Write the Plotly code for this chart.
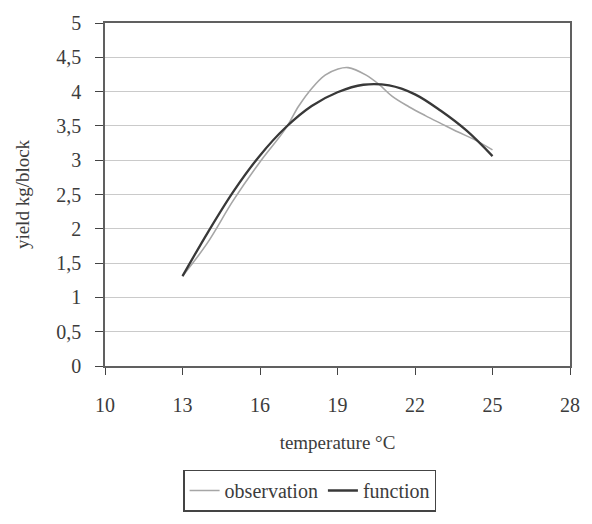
import plotly.graph_objects as go

temp_obs = [13, 13.94, 14.96, 15.97, 16.99, 17.5, 18.01, 18.52, 19.02, 19.41, 20.11, 20.62, 21.12, 21.76, 22.4, 23.03, 23.67, 24.3, 25]
yield_obs = [1.31, 1.78, 2.41, 2.96, 3.46, 3.79, 4.05, 4.24, 4.33, 4.35, 4.24, 4.1, 3.93, 3.78, 3.65, 3.53, 3.41, 3.3, 3.15]

temp_fun = [13, 14, 15, 16, 17, 18, 19, 20, 21, 22, 23, 24, 25]
yield_fun = [1.31, 1.96, 2.56, 3.07, 3.48, 3.79, 3.99, 4.1, 4.09, 3.96, 3.72, 3.43, 3.06]

x_ticks = [10, 13, 16, 19, 22, 25, 28]
y_ticks = [0, 0.5, 1, 1.5, 2, 2.5, 3, 3.5, 4, 4.5, 5]

font = "Liberation Serif, Times New Roman, serif"
txt = "#3c3c3c"

fig = go.Figure()
fig.add_trace(go.Scatter(x=temp_obs, y=yield_obs, mode="lines", name="observation",
                         line=dict(color="#a6a6a6", width=1.6, shape="spline", smoothing=1.0)))
fig.add_trace(go.Scatter(x=temp_fun, y=yield_fun, mode="lines", name="function",
                         line=dict(color="#383838", width=2.3, shape="spline", smoothing=1.0)))

fig.update_layout(
    width=592, height=524,
    margin=dict(l=105, r=15, t=17, b=157),
    paper_bgcolor="white", plot_bgcolor="white",
    separators=", ",
    font=dict(family=font, color=txt, size=19),
    showlegend=True,
    legend=dict(orientation="h", x=0.44, y=-0.363, xanchor="center", yanchor="middle",
                bordercolor="#444", borderwidth=1.5, font=dict(size=20, family=font, color=txt),
                tracegroupgap=0),
    xaxis=dict(range=[10, 28], tickvals=x_ticks, showgrid=False, zeroline=False,
               showline=True, linecolor="#606060", linewidth=1.5, mirror=True,
               ticks="outside", ticklen=7, tickcolor="#444", ticklabelstandoff=13,
               title=dict(text="temperature °C", font=dict(size=19, family=font, color=txt), standoff=21),
               tickfont=dict(size=20, family=font, color=txt)),
    yaxis=dict(range=[0, 5], tickvals=y_ticks, showgrid=True, gridcolor="#cacaca", gridwidth=1,
               zeroline=False, showline=True, linecolor="#606060", linewidth=1.5, mirror=True,
               ticks="outside", ticklen=8, tickcolor="#444", ticklabelstandoff=10,
               title=dict(text="yield kg/block", font=dict(size=19, family=font, color=txt), standoff=22),
               tickfont=dict(size=20, family=font, color=txt)),
)

fig.write_html("out.html")
